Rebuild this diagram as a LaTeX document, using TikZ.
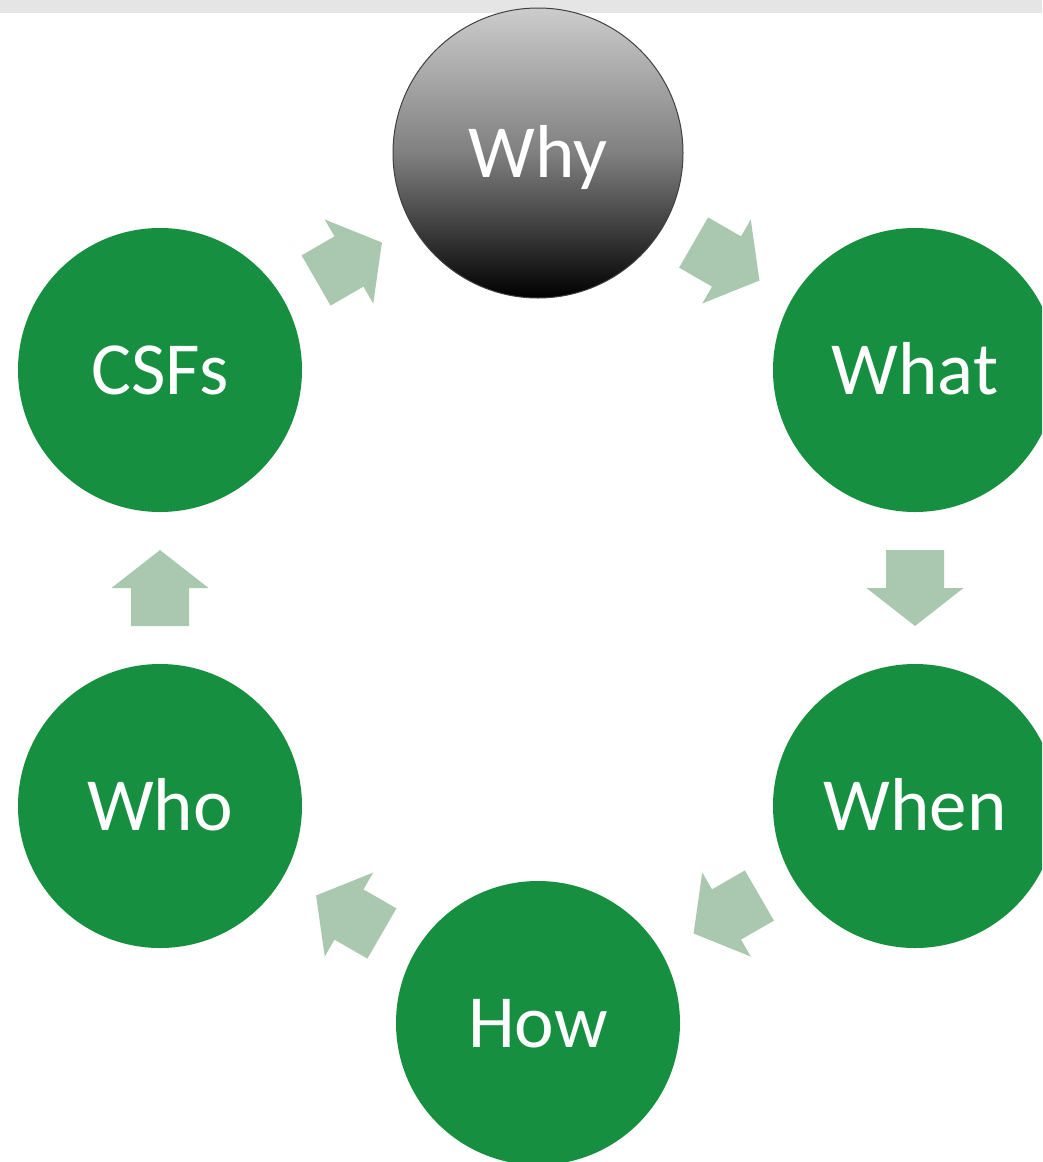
\documentclass[tikz,border=0pt]{standalone}
\usepackage{fontspec}
\setmainfont{Carlito}
\usetikzlibrary{calc}
\definecolor{stepgreen}{RGB}{22,144,64}
\definecolor{arrowgreen}{RGB}{170,199,176}
\definecolor{topbar}{RGB}{229,229,229}
\tikzset{
  stage/.style={circle, fill=stepgreen, minimum size=284pt, inner sep=0pt,
    text=white, font=\fontsize{75}{90}\selectfont, text height=48pt, text depth=0pt},
  focus/.style={circle, minimum size=290pt, inner sep=0pt,
    top color=black!20, bottom color=black, middle color=black!50,
    draw=black!75, line width=1pt,
    text=white, font=\fontsize{75}{90}\selectfont, text height=48pt, text depth=0pt},
  flow/.style={fill=arrowgreen},
}
\begin{document}
\begin{tikzpicture}[x=1pt,y=-1pt]
  \useasboundingbox (0,0) rectangle (1042,1162);
  \clip (0,0) rectangle (1042,1162);
  \fill[white] (0,0) rectangle (1042,1162);
  \fill[topbar] (0,0) rectangle (1042,13);

  % the six stages around the cycle
  \node[focus] (why)  at (538,153)  {Why};
  \node[stage] (what) at (915,370)  {What};
  \node[stage] (when) at (915,806)  {When};
  \node[stage] (how)  at (538,1023) {How};
  \node[stage] (who)  at (160,806)  {Who};
  \node[stage] (csfs) at (160,370)  {CSFs};

  % block arrows halfway between consecutive stages
  \foreach \a/\b/\ang in {why/what/-30, what/when/-90, when/how/-150,
                          how/who/150, who/csfs/90, csfs/why/30}{
    \begin{scope}[shift={($(\a)!0.5!(\b)$)}, rotate=\ang]
      \fill[flow] (-38,-29) -- (0,-29) -- (0,-48.5) -- (38,0)
                  -- (0,48.5) -- (0,29) -- (-38,29) -- cycle;
    \end{scope}
  }
\end{tikzpicture}
\end{document}
